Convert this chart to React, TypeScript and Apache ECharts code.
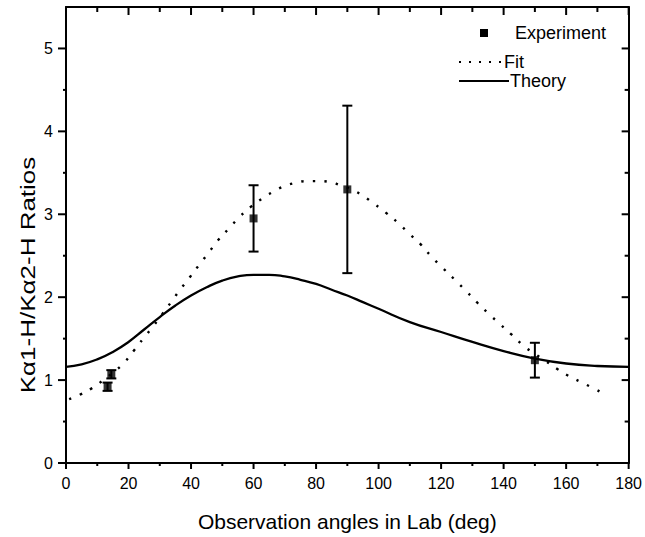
import React, { useEffect, useRef } from "react";
import * as echarts from "echarts";

// ---- data ----
const theoryAngles = [0, 5, 10, 15, 20, 25, 30, 35, 40, 45, 50, 55, 60, 65, 70, 75, 80, 85, 90, 95, 100, 110, 120, 130, 140, 150, 160, 170, 180];
const theoryValues = [1.16, 1.19, 1.25, 1.34, 1.46, 1.61, 1.76, 1.9, 2.02, 2.12, 2.2, 2.25, 2.27, 2.27, 2.25, 2.21, 2.16, 2.09, 2.02, 1.94, 1.86, 1.7, 1.58, 1.46, 1.35, 1.26, 1.2, 1.17, 1.16];

const fitAngles = [1.0, 4.8, 8.2, 11.6, 15.0, 18.6, 21.8, 24.7, 27.9, 30.9, 33.8, 36.5, 39.6, 42.4, 45.5, 48.5, 51.9, 55.6, 59.1, 62.8, 66.2, 69.9, 73.6, 77.1, 80.8, 84.3, 87.8, 91.4, 95.1, 98.8, 102.3, 106.1, 109.7, 113.4, 116.9, 120.6, 124.4, 128.1, 131.7, 135.2, 139.0, 142.5, 146.2, 149.8, 153.5, 157.3, 160.8, 164.5, 168.3, 171.8];
const fitValues = [0.77, 0.83, 0.9, 0.99, 1.09, 1.21, 1.36, 1.5, 1.65, 1.8, 1.95, 2.09, 2.24, 2.38, 2.53, 2.68, 2.82, 2.97, 3.09, 3.19, 3.27, 3.34, 3.38, 3.4, 3.4, 3.39, 3.35, 3.3, 3.22, 3.12, 3.02, 2.9, 2.77, 2.64, 2.49, 2.35, 2.21, 2.07, 1.93, 1.8, 1.67, 1.55, 1.42, 1.32, 1.23, 1.13, 1.05, 0.98, 0.91, 0.84];

const expAngles = [13.3, 14.5, 60, 90, 150];
const expValues = [0.92, 1.07, 2.95, 3.3, 1.24];
const expErrors = [0.05, 0.05, 0.4, 1.01, 0.21];

const xMajorTicks = [0, 20, 40, 60, 80, 100, 120, 140, 160, 180];
const xMinorTicks = [10, 30, 50, 70, 90, 110, 130, 150, 170];
const yMajorTicks = [0, 1, 2, 3, 4, 5];
const yMinorTicks = [0.5, 1.5, 2.5, 3.5, 4.5];

const xTitle = "Observation angles in Lab (deg)";
const yTitle = "Kα1-H/Kα2-H Ratios";

const X_MIN = 0;
const X_MAX = 180;
const Y_MIN = 0;
const Y_MAX = 5.5;

const FONT = "'Liberation Sans', Arial, Helvetica, sans-serif";

export default function App() {
  const ref = useRef<HTMLDivElement>(null);

  useEffect(() => {
    if (!ref.current) return;
    const chart = echarts.init(ref.current, undefined, { renderer: "svg" });

    const axisLine = { show: true, onZero: false, lineStyle: { color: "#000", width: 2 } };

    const option: any = {
      animation: false,
      backgroundColor: "#fff",
      grid: { left: 66, right: 15, top: 7, bottom: 72, containLabel: false },
      xAxis: [
        {
          type: "value",
          min: X_MIN,
          max: X_MAX,
          interval: 20,
          position: "bottom",
          axisLine,
          axisTick: { show: false },
          splitLine: { show: false },
          axisLabel: { color: "#000", fontSize: 16, fontFamily: FONT, margin: 12 },
          name: xTitle,
          nameLocation: "middle",
          nameGap: 48,
          nameTextStyle: { color: "#000", fontSize: 21, fontFamily: FONT },
        },
        {
          type: "value",
          min: X_MIN,
          max: X_MAX,
          interval: 20,
          position: "top",
          axisLine,
          axisTick: { show: false },
          splitLine: { show: false },
          axisLabel: { show: false },
        },
      ],
      yAxis: [
        {
          type: "value",
          min: Y_MIN,
          max: Y_MAX,
          interval: 1,
          position: "left",
          axisLine,
          axisTick: { show: false },
          splitLine: { show: false },
          axisLabel: { customValues: yMajorTicks, color: "#000", fontSize: 16, fontFamily: FONT, margin: 13 },
        },
        {
          type: "value",
          min: Y_MIN,
          max: Y_MAX,
          interval: 1,
          position: "right",
          axisLine,
          axisTick: { show: false },
          splitLine: { show: false },
          axisLabel: { show: false },
        },
      ],
      series: [
        {
          name: "xTicks",
          type: "custom",
          xAxisIndex: 0,
          yAxisIndex: 0,
          silent: true,
          clip: false,
          data: [...xMajorTicks.map((v) => [v, Y_MIN, 1]), ...xMinorTicks.map((v) => [v, Y_MIN, 0])],
          encode: { x: 0, y: 1 },
          renderItem: (params: any, api: any) => {
            const v = api.value(0);
            const major = api.value(2) === 1;
            const b = api.coord([v, Y_MIN]);
            const t = api.coord([v, Y_MAX]);
            const lb = major ? 6 : 3;
            const lt = major ? 8 : 5;
            return {
              type: "group",
              children: [
                { type: "line", shape: { x1: b[0], y1: b[1], x2: b[0], y2: b[1] + lb }, style: { stroke: "#000", lineWidth: 2 } },
                { type: "line", shape: { x1: t[0], y1: t[1], x2: t[0], y2: t[1] + lt }, style: { stroke: "#000", lineWidth: 2 } },
              ],
            };
          },
          z: 5,
        },
        {
          name: "yTicks",
          type: "custom",
          xAxisIndex: 0,
          yAxisIndex: 0,
          silent: true,
          clip: false,
          data: [...yMajorTicks.map((v) => [X_MIN, v, 1]), ...yMinorTicks.map((v) => [X_MIN, v, 0])],
          encode: { x: 0, y: 1 },
          renderItem: (params: any, api: any) => {
            const v = api.value(1);
            const major = api.value(2) === 1;
            const l = api.coord([X_MIN, v]);
            const r = api.coord([X_MAX, v]);
            const ll = major ? 8 : 3;
            const lr = major ? 7 : 4;
            return {
              type: "group",
              children: [
                { type: "line", shape: { x1: l[0] - ll, y1: l[1], x2: l[0], y2: l[1] }, style: { stroke: "#000", lineWidth: 2 } },
                { type: "line", shape: { x1: r[0] - lr, y1: r[1], x2: r[0], y2: r[1] }, style: { stroke: "#000", lineWidth: 2 } },
              ],
            };
          },
          z: 5,
        },
        {
          name: "Theory",
          type: "line",
          xAxisIndex: 0,
          yAxisIndex: 0,
          smooth: true,
          showSymbol: false,
          data: theoryAngles.map((a, i) => [a, theoryValues[i]]),
          lineStyle: { color: "#000", width: 2.3 },
          itemStyle: { color: "#000" },
          z: 2,
        },
        {
          name: "Fit",
          type: "line",
          xAxisIndex: 0,
          yAxisIndex: 0,
          smooth: true,
          showSymbol: false,
          data: fitAngles.map((a, i) => [a, fitValues[i]]),
          lineStyle: { color: "#000", width: 2.4, type: [2.4, 9.2] },
          itemStyle: { color: "#000" },
          z: 2,
        },
        {
          name: "Error",
          type: "custom",
          xAxisIndex: 0,
          yAxisIndex: 0,
          data: expAngles.map((a, i) => [a, expValues[i] - expErrors[i], expValues[i] + expErrors[i]]),
          encode: { x: 0, y: [1, 2] },
          renderItem: (params: any, api: any) => {
            const x = api.value(0);
            const lo = api.coord([x, api.value(1)]);
            const hi = api.coord([x, api.value(2)]);
            const hw = 5;
            const st = { stroke: "#000", lineWidth: 2 };
            return {
              type: "group",
              children: [
                { type: "line", shape: { x1: lo[0], y1: lo[1], x2: hi[0], y2: hi[1] }, style: st },
                { type: "line", shape: { x1: lo[0] - hw, y1: lo[1], x2: lo[0] + hw, y2: lo[1] }, style: st },
                { type: "line", shape: { x1: hi[0] - hw, y1: hi[1], x2: hi[0] + hw, y2: hi[1] }, style: st },
              ],
            };
          },
          z: 3,
        },
        {
          name: "Experiment",
          type: "scatter",
          xAxisIndex: 0,
          yAxisIndex: 0,
          symbol: "rect",
          symbolSize: 8,
          data: expAngles.map((a, i) => [a, expValues[i]]),
          itemStyle: { color: "#000" },
          z: 4,
        },
      ],
      graphic: [
        {
          type: "text",
          x: 28,
          y: 275,
          rotation: Math.PI / 2,
          scaleX: 1.3,
          style: { text: yTitle, fill: "#000", font: `20px ${FONT}`, textAlign: "center", textVerticalAlign: "middle" },
        },
        { type: "rect", shape: { x: 480, y: 29, width: 8, height: 8 }, style: { fill: "#000" } },
        { type: "text", x: 515, y: 33, style: { text: "Experiment", fill: "#000", font: `18px ${FONT}`, textVerticalAlign: "middle", textAlign: "left" } },
        { type: "line", shape: { x1: 459, y1: 62, x2: 503, y2: 62 }, style: { stroke: "#000", lineWidth: 2, lineDash: [2, 8] } },
        { type: "text", x: 504, y: 62, style: { text: "Fit", fill: "#000", font: `18px ${FONT}`, textVerticalAlign: "middle", textAlign: "left" } },
        { type: "line", shape: { x1: 459, y1: 81, x2: 509, y2: 81 }, style: { stroke: "#000", lineWidth: 2 } },
        { type: "text", x: 510, y: 81, style: { text: "Theory", fill: "#000", font: `18px ${FONT}`, textVerticalAlign: "middle", textAlign: "left" } },
      ],
    };

    chart.setOption(option);
    return () => chart.dispose();
  }, []);

  return (
    <div
      ref={ref}
      style={{ position: "fixed", left: 0, top: 0, width: 645, height: 537, background: "#fff" }}
    />
  );
}
